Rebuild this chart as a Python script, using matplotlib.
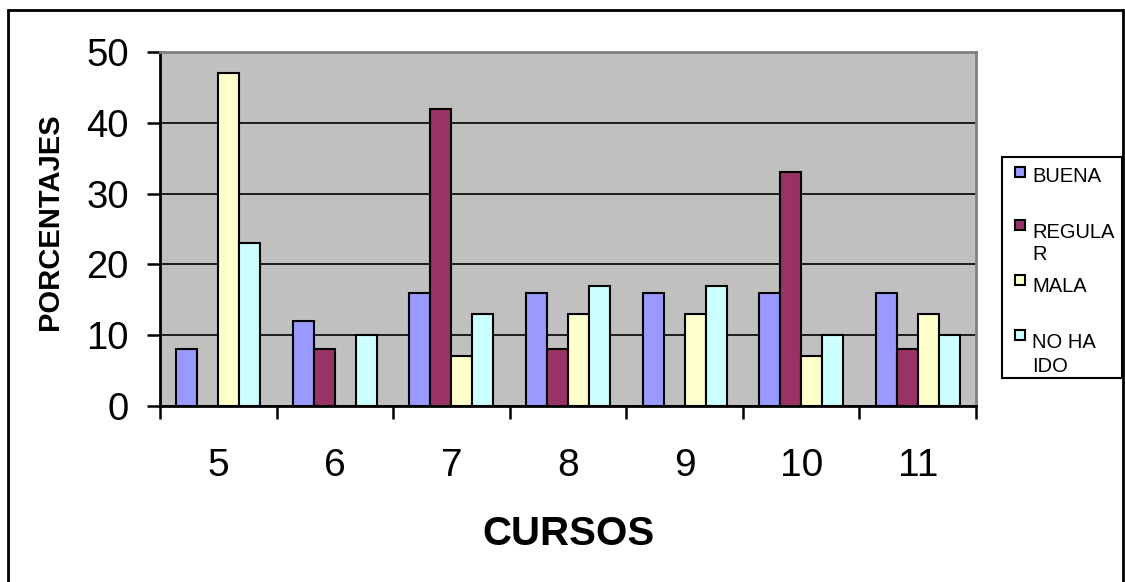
import matplotlib
matplotlib.use('Agg')
import matplotlib.pyplot as plt
from matplotlib.patches import Rectangle
import numpy as np

plt.rcParams['font.family'] = ['Liberation Sans', 'DejaVu Sans']

cursos = ['5', '6', '7', '8', '9', '10', '11']
buena = [8, 12, 16, 16, 16, 16, 16]
regular = [0, 8, 42, 8, 0, 33, 8]
mala = [47, 0, 7, 13, 13, 7, 13]
no_ha_ido = [23, 10, 13, 17, 17, 10, 10]

series = [buena, regular, mala, no_ha_ido]
colores = ['#9999FF', '#993366', '#FFFFCC', '#CCFFFF']
leyenda = [['BUENA'], ['REGULA', 'R'], ['MALA'], ['NO HA', 'IDO']]

W, H = 1125, 582
fig = plt.figure(figsize=(W / 100, H / 100), dpi=100)

def fx(px):
    return px / W

def fy(py):
    return 1 - py / H

ax = fig.add_axes([fx(160), fy(406), fx(976) - fx(160), fy(52) - fy(406)])
ax.set_facecolor('#C0C0C0')

x = np.arange(len(cursos))
w = 0.18
for i, (vals, col) in enumerate(zip(series, colores)):
    ax.bar(x + (i - 1.5) * w, vals, w, color=col, edgecolor='black',
           linewidth=1.5, zorder=3)

ax.set_xlim(-0.5, len(cursos) - 0.5)
ax.set_ylim(0, 50)
ax.set_yticks([0, 10, 20, 30, 40, 50])
ax.yaxis.grid(True, color='black', linewidth=1.2, zorder=1)
ax.set_axisbelow(True)

# category boundaries as major ticks, labels on minor ticks
ax.set_xticks(np.arange(-0.5, len(cursos), 1.0))
ax.set_xticklabels([])
ax.set_xticks(x, minor=True)
ax.set_xticklabels(cursos, minor=True, fontsize=28)
ax.tick_params(axis='x', which='major', direction='out', length=9, width=1.8)
ax.tick_params(axis='x', which='minor', length=0, pad=30)
ax.tick_params(axis='y', direction='out', length=9.5, width=1.8, labelsize=27.5, pad=13)

for s in ['left', 'bottom']:
    ax.spines[s].set_color('black')
    ax.spines[s].set_linewidth(2)
for s in ['top', 'right']:
    ax.spines[s].set_color('#808080')
    ax.spines[s].set_linewidth(2)

fig.text(fx(569), fy(545), 'CURSOS', fontsize=29, fontweight='bold',
         ha='center', va='baseline')
fig.text(fx(64), fy(222), 'PORCENTAJES', fontsize=21, fontweight='bold',
         rotation=90, ha='right', va='center')

# legend box
fig.add_artist(Rectangle((fx(1002), fy(378)), fx(1122) - fx(1002), fy(157) - fy(378),
                         transform=fig.transFigure, facecolor='white',
                         edgecolor='black', linewidth=1.5))
marcadores = [167, 220, 275, 330]
bases = [[182], [238, 260], [292], [348, 372]]
for col, my, lines, bl in zip(colores, marcadores, leyenda, bases):
    fig.add_artist(Rectangle((fx(1015), fy(my + 10)), fx(10), 10 / H,
                             transform=fig.transFigure, facecolor=col,
                             edgecolor='black', linewidth=1.5))
    for txt, b in zip(lines, bl):
        fig.text(fx(1032), fy(b), txt, fontsize=14.5, ha='left', va='baseline')

# outer chart frame
fig.add_artist(Rectangle((fx(8), -0.02), fx(1123) - fx(8), fy(10) + 0.02,
                         transform=fig.transFigure, facecolor='none',
                         edgecolor='black', linewidth=2))

fig.savefig('out.png', dpi=100)
